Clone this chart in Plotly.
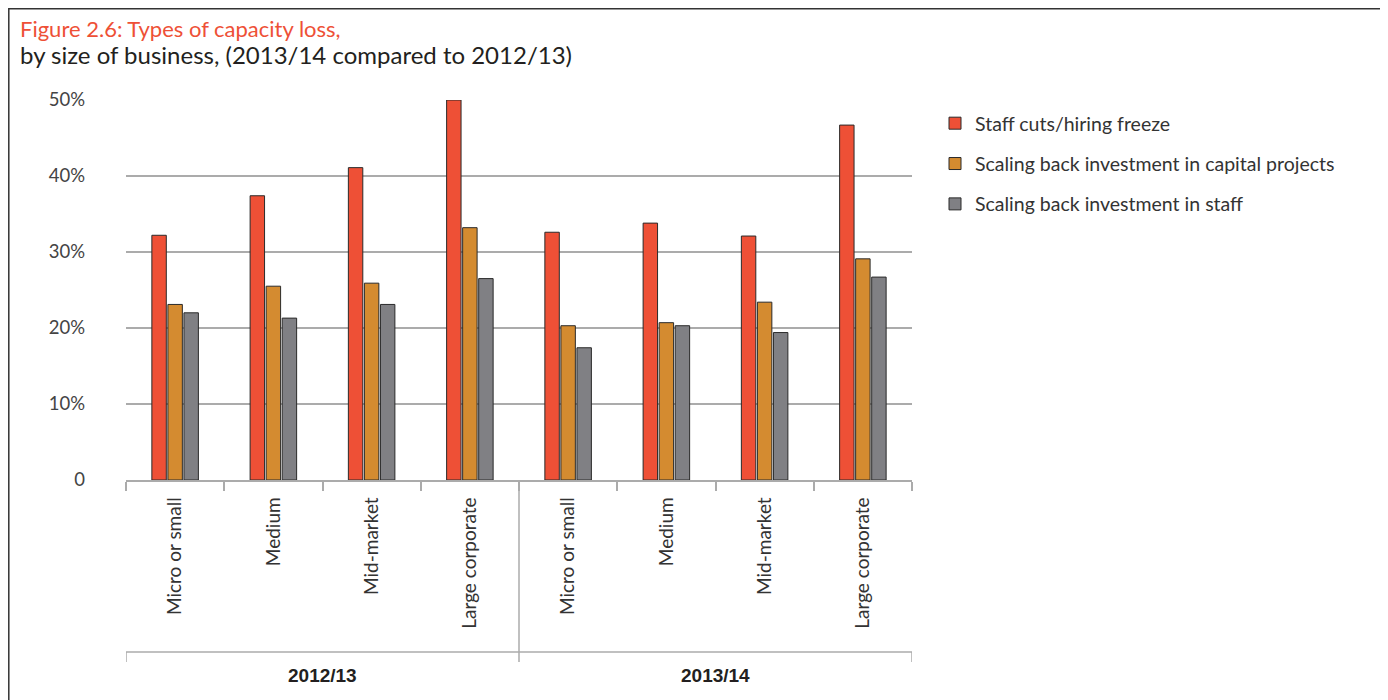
import plotly.graph_objects as go

# ---- data ----
years = ["2012/13", "2013/14"]
sizes = ["Micro or small", "Medium", "Mid-market", "Large corporate"]
series_names = [
    "Staff cuts/hiring freeze",
    "Scaling back investment in capital projects",
    "Scaling back investment in staff",
]
staff_cuts = [32.2, 37.4, 41.1, 50.0, 32.6, 33.8, 32.1, 46.7]
capital_projects = [23.1, 25.5, 25.9, 33.2, 20.3, 20.7, 23.4, 29.1]
staff_investment = [22.0, 21.3, 23.1, 26.5, 17.4, 20.3, 19.4, 26.7]
y_ticks = [0, 10, 20, 30, 40, 50]
y_tick_labels = ["0", "10%", "20%", "30%", "40%", "50%"]

colors = ["#EE5036", "#D48B30", "#808084"]

# ---- geometry (screen pixels; page body has an 8px margin) ----
OFF = 8
W, H = 1388 - OFF, 700 - OFF
L, R, T, B = 126, 912, 100, 480          # plot area in screen pixels
def px_x(p):
    return (p - L) / (R - L)
def px_y(p):
    return (B - p) / (B - T)

n_cat = len(years) * len(sizes)
xpos = list(range(n_cat))
xlabels = sizes * len(years)

fig = go.Figure()
for name, vals, col in zip(series_names, [staff_cuts, capital_projects, staff_investment], colors):
    fig.add_trace(go.Bar(
        x=xpos, y=vals, name=name, legendgroup=name,
        marker=dict(color=col, line=dict(color="#2a2a2a", width=1)),
        hoverinfo="y+name",
    ))

grid_col = "#ababab"
boundaries = [i - 0.5 for i in range(n_cat + 1)]

shapes = []
for g in range(1, len(years)):
    xb = g * len(sizes) - 0.5
    shapes.append(dict(type="line", xref="x", yref="paper", x0=xb, x1=xb,
                       y0=0, y1=px_y(662), line=dict(color=grid_col, width=1.5)))
shapes.append(dict(type="line", xref="x", yref="paper", x0=boundaries[0], x1=boundaries[-1],
                   y0=px_y(652), y1=px_y(652), line=dict(color=grid_col, width=1.5)))
for xb in [boundaries[0], boundaries[-1]]:
    shapes.append(dict(type="line", xref="x", yref="paper", x0=xb, x1=xb,
                       y0=px_y(652), y1=px_y(662), line=dict(color=grid_col, width=1.5)))
# outer frame
shapes.append(dict(type="rect", xref="paper", yref="paper",
                   x0=px_x(8.8), x1=px_x(1381), y0=px_y(8.8), y1=px_y(720),
                   line=dict(color="#333333", width=1.5)))

annotations = []
for g, yr in enumerate(years):
    xc = (g * len(sizes) + (g + 1) * len(sizes) - 1) / 2
    annotations.append(dict(x=xc, xref="x", y=px_y(675), yref="paper", text="<b>" + yr + "</b>",
                            showarrow=False, xanchor="center", yanchor="middle",
                            font=dict(family="Liberation Sans", size=19, color="#231f20")))
annotations.append(dict(x=px_x(18), xref="paper", y=px_y(28), yref="paper",
                        text="Figure 2.6: Types of capacity loss,", showarrow=False,
                        xanchor="left", yanchor="middle",
                        font=dict(family="Lato", size=22, color="#EE5036")))
annotations.append(dict(x=px_x(18), xref="paper", y=px_y(55), yref="paper",
                        text="by size of business, (2013/14 compared to 2012/13)", showarrow=False,
                        xanchor="left", yanchor="middle",
                        font=dict(family="Lato", size=24, color="#231f20")))

fig.update_layout(
    width=W, height=H,
    margin=dict(l=L - OFF, r=W - (R - OFF), t=T - OFF, b=H - (B - OFF), autoexpand=False),
    paper_bgcolor="white", plot_bgcolor="white",
    barmode="group", bargap=0.51, bargroupgap=0.1,
    font=dict(family="Lato", color="#333333"),
    showlegend=True,
    legend=dict(x=px_x(935), y=px_y(104), xanchor="left", yanchor="top",
                traceorder="grouped", tracegroupgap=12,
                font=dict(family="Lato", size=19.5, color="#333333")),
    shapes=shapes, annotations=annotations,
)
fig.update_xaxes(
    range=[boundaries[0], boundaries[-1]], tickmode="array", tickvals=xpos, ticktext=xlabels,
    tickangle=-90, ticks="", ticklabelstandoff=8,
    tickfont=dict(family="Lato", size=19, color="#333333"),
    showline=True, linecolor=grid_col, linewidth=1.5, showgrid=False, zeroline=False,
    minor=dict(tickmode="array", tickvals=boundaries, ticks="outside", ticklen=9,
               tickcolor=grid_col, tickwidth=1.5, showgrid=False),
    fixedrange=True,
)
fig.update_yaxes(
    range=[0, 50], tickmode="array", tickvals=y_ticks, ticktext=y_tick_labels,
    ticks="", ticklabelstandoff=40,
    tickfont=dict(family="Lato", size=18.5, color="#444444"),
    showgrid=True, gridcolor=grid_col, gridwidth=1.5, zeroline=False, showline=False,
    fixedrange=True,
)

fig.write_html("out.html")
